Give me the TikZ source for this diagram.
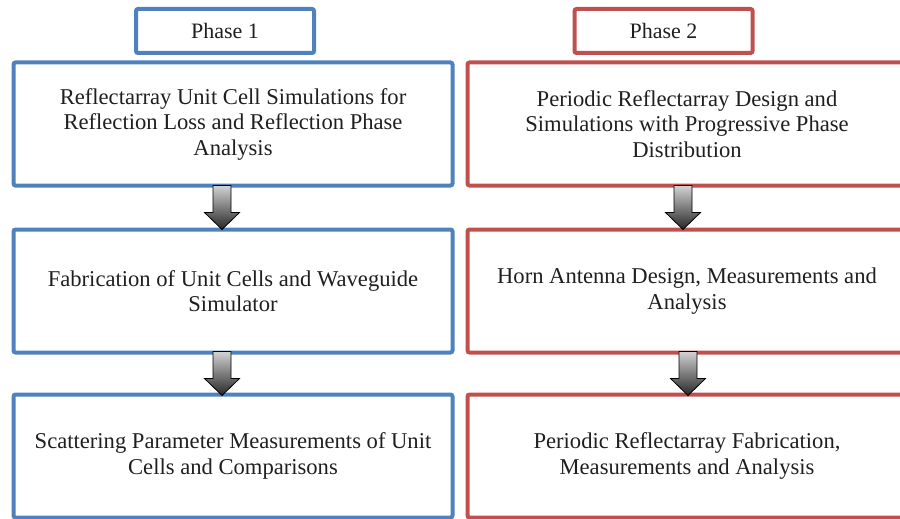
\documentclass[tikz,border=0pt]{standalone}
\usepackage{fontspec}
\setmainfont{Liberation Serif}
\usetikzlibrary{calc}
\definecolor{phaseblue}{RGB}{79,129,189}
\definecolor{phasered}{RGB}{192,80,77}
\begin{document}
\begin{tikzpicture}[x=1pt,y=-1pt,
  box/.style={draw,line width=4pt,rounded corners=2pt,minimum width=439pt,minimum height=123pt,align=center,font=\fontsize{22.6}{25.5}\selectfont,text=black!88},
  tag/.style={draw,line width=4pt,rounded corners=2pt,minimum width=178pt,minimum height=44pt,font=\fontsize{22}{25.5}\selectfont,text=black!88},
  downarrow/.pic={
    \path[draw=black,line width=0.8pt,top color=gray!35,bottom color=black!85]
      (-9,-22) -- (9,-22) -- (9,5) -- (17.5,5) -- (0,22) -- (-17.5,5) -- (-9,5) -- cycle;
  }]
\useasboundingbox (0,0) rectangle (900,519);

% phase 1
\node[tag,draw=phaseblue] (p1) at (225,31) {Phase 1};
\node[box,draw=phaseblue] (l1) at (233,124) {Reflectarray Unit Cell Simulations for\\Reflection Loss and Reflection Phase\\Analysis};
\node[box,draw=phaseblue] (l2) at (233,291) {Fabrication of Unit Cells and Waveguide\\Simulator};
\node[box,draw=phaseblue] (l3) at (233,456) {Scattering Parameter Measurements of Unit\\Cells and Comparisons};

% phase 2
\node[tag,draw=phasered] (p2) at (663.5,31) {Phase 2};
\node[box,draw=phasered] (r1) at (687,124) {Periodic Reflectarray Design and\\Simulations with Progressive Phase\\Distribution};
\node[box,draw=phasered] (r2) at (687,291) {Horn Antenna Design, Measurements and\\Analysis};
\node[box,draw=phasered] (r3) at (687,456) {Periodic Reflectarray Fabrication,\\Measurements and Analysis};

\pic at ($(l1.south)!0.5!(l2.north)+(-11,0)$) {downarrow};
\pic at ($(l2.south)!0.5!(l3.north)+(-11,0)$) {downarrow};
\pic at ($(r1.south)!0.5!(r2.north)+(-4,0)$) {downarrow};
\pic at ($(r2.south)!0.5!(r3.north)+(1,0)$) {downarrow};
\end{tikzpicture}
\end{document}
